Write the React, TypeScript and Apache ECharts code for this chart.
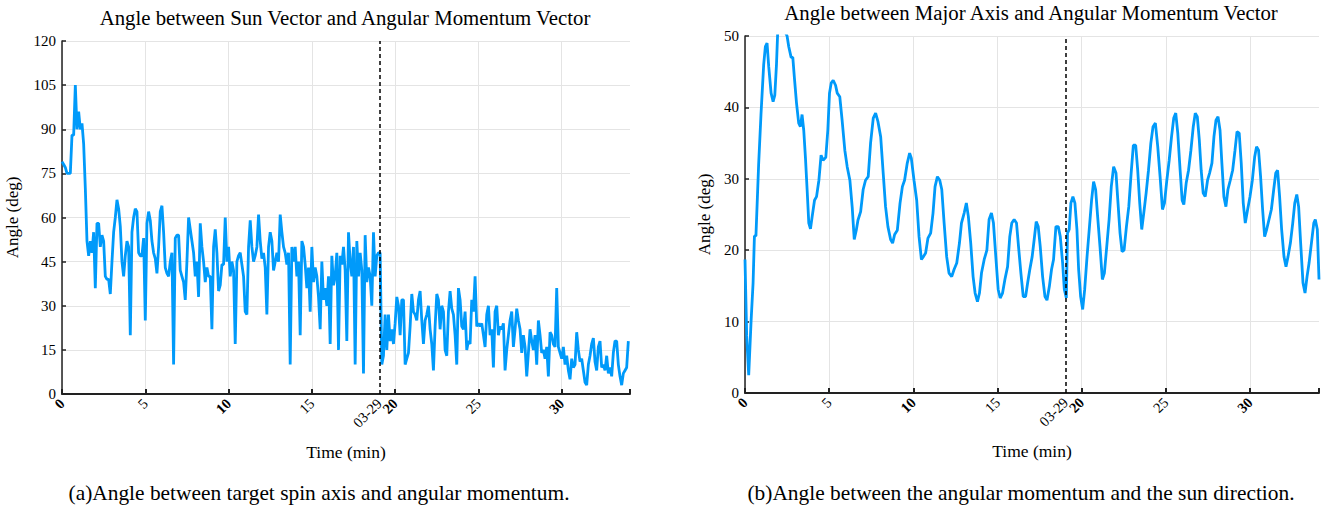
import React, { useEffect, useRef } from "react";
import * as echarts from "echarts";

// ---------- DATA ----------
const leftTitle = "Angle between Sun Vector and Angular Momentum Vector";
const rightTitle = "Angle between Major Axis and Angular Momentum Vector";
const leftCaption = "(a)Angle between target spin axis and angular momentum.";
const rightCaption = "(b)Angle between the angular momentum and the sun direction.";
const xName = "Time (min)";
const yName = "Angle (deg)";
const markerTime = 19.05;
const markerLabel = "03-29";
const xMax = 34.1;
const xTickStep = 5;
const leftYMax = 120;
const leftYStep = 15;
const rightYMax = 50;
const rightYStep = 10;

// left panel: sampled every 0.1 min from t = 0
const sunStep = 0.1;
const sunAngle = [
  79, 78, 77, 75, 75, 75, 88, 88, 105, 90,
  96, 90, 92, 85, 70, 52, 47, 52, 48, 55,
  36, 58, 58, 50, 54, 52, 40, 39, 39, 34,
  45, 55, 60, 66, 63, 57, 45, 40, 47, 52,
  50, 20, 55, 60, 63, 62, 48, 47, 47, 53,
  25, 58, 62, 59, 52, 48, 46, 41, 50, 62,
  64, 55, 43, 41, 40, 45, 48, 10, 53, 54,
  54, 42, 40, 38, 32, 45, 60, 56, 52, 48,
  40, 45, 33, 58, 50, 45, 38, 43, 40, 40,
  22, 50, 56, 48, 35, 37, 44, 44, 60, 45,
  50, 40, 45, 42, 17, 45, 47, 48, 44, 40,
  28, 27, 50, 59, 50, 45, 47, 50, 61, 52,
  46, 48, 43, 27, 50, 55, 52, 42, 45, 48,
  45, 61, 55, 50, 48, 44, 48, 10, 50, 45,
  50, 40, 45, 20, 52, 50, 44, 36, 43, 28,
  50, 38, 43, 40, 33, 22, 45, 32, 36, 30,
  40, 17, 47, 37, 40, 48, 15, 47, 44, 50,
  42, 18, 55, 45, 40, 50, 10, 52, 40, 48,
  42, 7, 54, 38, 43, 40, 30, 55, 40, 47,
  48, 48, 10, 13, 27, 15, 27, 18, 22, 17,
  24, 33, 30, 20, 32, 32, 10, 12, 14, 23,
  34, 28, 27, 25, 32, 35, 25, 17, 25, 27,
  30, 22, 17, 8, 23, 34, 32, 22, 30, 28,
  15, 13, 28, 35, 29, 27, 20, 10, 36, 32,
  23, 22, 28, 15, 18, 17, 32, 28, 40, 23,
  24, 23, 24, 20, 16, 27, 30, 20, 22, 9,
  28, 30, 20, 23, 22, 24, 8, 15, 20, 25,
  28, 16, 22, 29, 25, 22, 14, 20, 16, 6,
  14, 22, 18, 15, 20, 10, 25, 20, 14, 15,
  12, 16, 6, 21, 20, 17, 16, 36, 16, 14,
  12, 16, 10, 13, 8, 5, 12, 9, 10, 21,
  15, 11, 12, 8, 4, 3, 10, 13, 17, 19,
  11, 8, 16, 18, 9, 10, 8, 13, 7, 9,
  6, 14, 18, 18, 10, 6, 3, 7, 8, 9,
  18,
];

// right panel: [time (min), angle (deg)]
const majorAngle = [
  [0.0, 18.7], [0.1, 8], [0.22, 2.5], [0.36, 10], [0.48, 15.4], [0.56, 22], [0.65, 22],
  [0.81, 32], [0.95, 39], [1.11, 46], [1.21, 48.5], [1.31, 49], [1.41, 45.7], [1.55, 42],
  [1.67, 40.8], [1.77, 41.7], [1.87, 46], [1.94, 50.4], [2.1, 52], [2.2, 51.5], [2.5, 50],
  [2.6, 48.5], [2.74, 47], [2.84, 47], [2.94, 44], [3.06, 40.6], [3.19, 37.8], [3.29, 37.3],
  [3.39, 39], [3.49, 36.8], [3.59, 33], [3.69, 28.5], [3.79, 23.8], [3.89, 23], [3.99, 24.7],
  [4.13, 27], [4.25, 27.5], [4.39, 29.8], [4.52, 33.3], [4.64, 32.6], [4.8, 33], [4.92, 36.8],
  [5.02, 42], [5.12, 43.4], [5.24, 43.8], [5.38, 43.1], [5.48, 42], [5.63, 41.5], [5.77, 38.2],
  [5.93, 34], [6.07, 31.7], [6.23, 29.8], [6.37, 26], [6.49, 21.5], [6.61, 22.8], [6.71, 24.2],
  [6.87, 25.4], [7.02, 28.5], [7.16, 29.8], [7.32, 30.3], [7.46, 35], [7.62, 38.5], [7.76, 39.2],
  [7.9, 38], [8.06, 35.9], [8.21, 30.8], [8.35, 26.1], [8.49, 23.3], [8.65, 21.5], [8.77, 21],
  [8.89, 22.2], [9.05, 22.8], [9.21, 26.6], [9.35, 28.9], [9.48, 29.8], [9.64, 32.2], [9.78, 33.6],
  [9.88, 32.9], [10.04, 29.8], [10.2, 27], [10.34, 21.9], [10.48, 18.7], [10.6, 19.1], [10.73, 19.6],
  [10.87, 21.7], [11.03, 22.4], [11.17, 25.2], [11.29, 28.9], [11.43, 30.3], [11.57, 29.8],
  [11.69, 28.5], [11.83, 23.8], [11.98, 19.1], [12.12, 16.8], [12.28, 16.3], [12.42, 17.3],
  [12.58, 18.2], [12.74, 21], [12.86, 23.8], [13.02, 25.2], [13.15, 26.6], [13.27, 24.7],
  [13.41, 21], [13.55, 16.3], [13.67, 14], [13.81, 12.8], [13.93, 14], [14.05, 16.8], [14.21, 18.7],
  [14.37, 20], [14.5, 24.3], [14.64, 25.2], [14.76, 23.8], [14.9, 19.1], [15.04, 14.5], [15.16, 13.3],
  [15.3, 14], [15.44, 15.9], [15.6, 17.7], [15.73, 21.9], [15.85, 23.8], [15.99, 24.3], [16.13, 23.8],
  [16.25, 20.5], [16.39, 16.8], [16.53, 13.5], [16.67, 13.5], [16.79, 15.4], [16.92, 17.3],
  [17.06, 19.1], [17.18, 21.5], [17.3, 24], [17.42, 23.3], [17.54, 20.5], [17.68, 16.3],
  [17.82, 13.5], [17.94, 13], [18.08, 14.9], [18.21, 17.3], [18.33, 18.7], [18.47, 23.3],
  [18.61, 23.3], [18.73, 21.9], [18.87, 18.2], [18.97, 14.5], [19.09, 13.3], [19.16, 22.4],
  [19.26, 22.9], [19.36, 26.6], [19.48, 27.5], [19.6, 26.6], [19.72, 22.9], [19.82, 17.3],
  [19.94, 13.5], [20.06, 11.7], [20.18, 14.5], [20.32, 19.1], [20.45, 22.9], [20.59, 27],
  [20.71, 29.6], [20.83, 28.5], [20.95, 24.7], [21.09, 20.5], [21.23, 15.9], [21.35, 16.8],
  [21.49, 20.5], [21.63, 24.3], [21.76, 28.9], [21.9, 31.7], [22.04, 30.8], [22.16, 26.6],
  [22.28, 22.4], [22.4, 19.8], [22.52, 20], [22.66, 23.3], [22.8, 26.1], [22.94, 30.8],
  [23.07, 34.7], [23.21, 34.7], [23.33, 31.2], [23.45, 26.6], [23.57, 22.9], [23.69, 25.2],
  [23.83, 28], [23.97, 31.2], [24.11, 35], [24.24, 37.3], [24.38, 37.8], [24.52, 34.5],
  [24.66, 30.3], [24.8, 25.7], [24.92, 26.6], [25.06, 29.8], [25.2, 32.6], [25.34, 35.9],
  [25.47, 38.5], [25.59, 39.2], [25.71, 36.4], [25.85, 31.2], [25.97, 27], [26.07, 26.4],
  [26.21, 29.4], [26.35, 31.2], [26.49, 34], [26.63, 37.3], [26.75, 39.2], [26.87, 38.7],
  [26.99, 35.4], [27.1, 31.2], [27.22, 28], [27.34, 27.5], [27.48, 29.8], [27.6, 30.8],
  [27.74, 32.2], [27.86, 35.9], [27.98, 38.2], [28.1, 38.7], [28.22, 36.8], [28.33, 32.2],
  [28.45, 27.5], [28.57, 26.1], [28.69, 28.5], [28.83, 29.8], [28.97, 31.2], [29.11, 34],
  [29.23, 36.6], [29.36, 36.4], [29.48, 32.2], [29.6, 26.6], [29.72, 23.8], [29.86, 25.7],
  [30.0, 27.5], [30.14, 29.8], [30.28, 33.1], [30.39, 34.5], [30.51, 34], [30.63, 30.3],
  [30.75, 25.7], [30.87, 21.9], [30.99, 22.9], [31.13, 24.3], [31.27, 25.7], [31.41, 28.5],
  [31.53, 30.8], [31.64, 31.2], [31.76, 27.5], [31.88, 22.9], [32.02, 19.1], [32.14, 17.7],
  [32.26, 19.1], [32.4, 21], [32.54, 23.8], [32.66, 26.6], [32.78, 27.8], [32.89, 26.1],
  [33.01, 21], [33.15, 15.4], [33.27, 14], [33.39, 16.3], [33.51, 18.2], [33.65, 21],
  [33.79, 23.8], [33.88, 24.3], [34.0, 22.9], [34.1, 15.9],
];

// ---------- STYLE ----------
const FONT = "'Liberation Serif', 'Times New Roman', serif";
const LINE_COLOR = "#009AFA";
const GRID_COLOR = "#e4e4e4";
const AXIS_COLOR = "#222";

function xAxes(gridIndex: number) {
  return [
    {
      type: "value",
      gridIndex,
      position: "bottom",
      min: 0,
      max: xMax,
      interval: xTickStep,
      name: xName,
      nameLocation: "middle",
      nameGap: 49,
      nameTextStyle: { fontFamily: FONT, fontSize: 17.5, color: "#000" },
      axisLine: { show: true, onZero: false, lineStyle: { color: AXIS_COLOR, width: 2 } },
      axisTick: { show: true, inside: true, length: 5, lineStyle: { color: AXIS_COLOR, width: 2 } },
      splitLine: { show: true, showMaxLine: false, lineStyle: { color: GRID_COLOR, width: 1 } },
      axisLabel: {
        rotate: 45,
        margin: 7,
        fontFamily: FONT,
        fontSize: 14.5,
        color: "#000",
        formatter: (v: number) => {
          if (Math.abs(v % xTickStep) > 1e-6) return "";
          return v % (2 * xTickStep) === 0 ? `{b|${v}}` : `${v}`;
        },
        rich: { b: { fontFamily: FONT, fontSize: 14.5, fontWeight: "bold", color: "#000" } },
      },
    },
    {
      type: "value",
      gridIndex,
      position: "bottom",
      offset: 0,
      min: 0,
      max: xMax,
      interval: markerTime,
      axisLine: { show: false, onZero: false },
      axisTick: { show: false },
      splitLine: { show: false },
      axisLabel: {
        rotate: 45,
        margin: 7,
        fontFamily: FONT,
        fontSize: 14.5,
        color: "#000",
        showMinLabel: false,
        formatter: (v: number) => (Math.abs(v - markerTime) < 1e-6 ? markerLabel : ""),
      },
    },
  ];
}

function yAxis(gridIndex: number, max: number, interval: number, nameGap: number) {
  return {
    type: "value",
    gridIndex,
    min: 0,
    max,
    interval,
    name: yName,
    nameLocation: "middle",
    nameGap,
    nameTextStyle: { fontFamily: FONT, fontSize: 17, color: "#000" },
    axisLine: { show: true, lineStyle: { color: AXIS_COLOR, width: 1.5 } },
    axisTick: { show: true, inside: true, length: 4, lineStyle: { color: AXIS_COLOR, width: 1.5 } },
    splitLine: { show: true, lineStyle: { color: GRID_COLOR, width: 1 } },
    axisLabel: { fontFamily: FONT, fontSize: 15, color: "#000", margin: 6 },
  };
}

const markLine = {
  silent: true,
  symbol: "none",
  label: { show: false },
  lineStyle: { color: "#000", type: [4, 3], width: 1.5 },
  data: [{ xAxis: markerTime }],
};

export default function App() {
  const ref = useRef<HTMLDivElement>(null);
  useEffect(() => {
    if (!ref.current) return;
    const chart = echarts.init(ref.current, null, { renderer: "svg" });
    const textStyle = (size: number) => ({ fontFamily: FONT, fontSize: size, fill: "#000" });
    chart.setOption({
      animation: false,
      backgroundColor: "#fff",
      grid: [
        { left: 62, top: 41, width: 568, height: 353 },
        { left: 745, top: 36, width: 574, height: 357 },
      ],
      xAxis: [...xAxes(0), ...xAxes(1)],
      yAxis: [yAxis(0, leftYMax, leftYStep, 41), yAxis(1, rightYMax, rightYStep, 32)],
      graphic: [
        { type: "text", x: 345, y: 17, style: { ...textStyle(20.8), text: leftTitle, align: "center", verticalAlign: "middle" } },
        { type: "text", x: 1031, y: 12, style: { ...textStyle(20.8), text: rightTitle, align: "center", verticalAlign: "middle" } },
        { type: "text", x: 319, y: 493, style: { ...textStyle(21.4), text: leftCaption, align: "center", verticalAlign: "middle" } },
        { type: "text", x: 1021, y: 493, style: { ...textStyle(21.4), text: rightCaption, align: "center", verticalAlign: "middle" } },
      ],
      series: [
        {
          type: "line",
          xAxisIndex: 0,
          yAxisIndex: 0,
          data: sunAngle.map((v, i) => [i * sunStep, v]),
          showSymbol: false,
          lineStyle: { color: LINE_COLOR, width: 2.8 },
          itemStyle: { color: LINE_COLOR },
          markLine,
        },
        {
          type: "line",
          xAxisIndex: 2,
          yAxisIndex: 1,
          data: majorAngle,
          showSymbol: false,
          lineStyle: { color: LINE_COLOR, width: 2.8 },
          itemStyle: { color: LINE_COLOR },
          markLine,
        },
      ],
    });
    return () => chart.dispose();
  }, []);
  return (
    <div
      ref={ref}
      style={{ position: "fixed", left: 0, top: 0, width: 1323, height: 508, background: "#fff" }}
    />
  );
}
